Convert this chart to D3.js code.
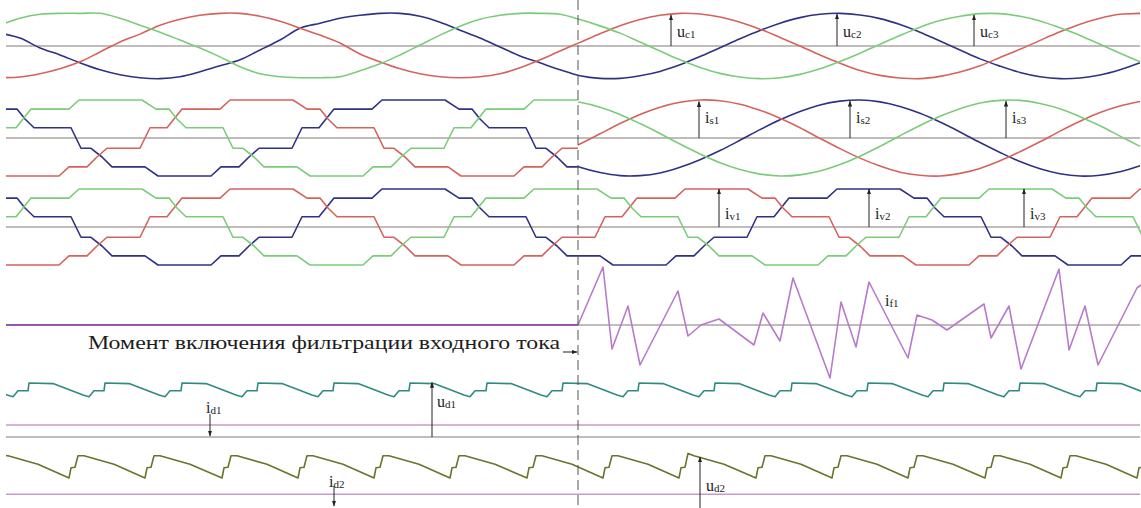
<!DOCTYPE html>
<html>
<head>
<meta charset="utf-8">
<script src="https://cdn.jsdelivr.net/npm/d3@7"></script>
<style>
  html, body { margin: 0; padding: 0; background: #fff; }
  svg { display: block; }
</style>
</head>
<body>
<svg id="chart" width="1141" height="508"></svg>
<script>
// ---------------------------------------------------------------
// Transient of the input-current filter switch-on (oscillograms).
// Time in ms, currents / voltages in % of nominal amplitude.
// ---------------------------------------------------------------
const tSwitch = 28.9;                 // filter switched on, ms
const sampleTimes = d3.range(0, 58);  // 1 ms grid of the sinusoidal records
const sineTimes = d3.range(28, 58);   // grid of the source current after switch-on

// capacitor (supply) voltages u_c1, u_c2, u_c3
const uc1 = [-96,-94,-84,-69,-48,-18,12,36,63,81,93,99,99,90,75,54,33,9,-24,-48,-69,-84,-93,-96,-93,-84,-66,-42,-15,
             11,37,61,80,93,99,97,88,72,51,26,0,-27,-52,-74,-89,-97,-99,-92,-79,-60,-35,-10,17,43,66,84,96,99];
const uc2 = [39,24,-6,-27,-51,-72,-87,-96,-99,-93,-78,-60,-42,-12,18,54,69,84,93,99,99,90,72,48,24,-3,-30,-51,-72,
             -90,-98,-98,-90,-77,-57,-32,-5,22,47,69,86,96,99,94,83,65,42,15,-12,-39,-61,-80,-93,-99,-97,-88,-72,-51];
const uc3 = [63,84,96,99,99,99,84,63,42,18,-6,-33,-63,-84,-93,-96,-96,-93,-75,-54,-27,3,33,60,81,93,99,99,96,
             80,61,39,12,-15,-42,-65,-83,-94,-99,-96,-86,-69,-47,-22,5,32,57,77,90,98,98,90,76,55,32,5,-22,-48];

// rectifier input currents i_v1..i_v3 : [time ms, value]
const iv1 = [[-2,-76],[-0.35,-76],[0.3,-100],[2.95,-100],[3.45,-76],[4.35,-76],[4.85,-50],[5.35,-27],[7,-27],[7.5,27],[8.35,27],[8.7,50],[9.1,76],[11,76],[11.5,100],[14.65,100],[15.35,76],[16,76],[16.4,50],[16.85,27],[18.7,27],[19.2,-27],[19.7,-27],[20.25,-50],[20.75,-76],[22.4,-76],[23.05,-100],[25.7,-100],[26.2,-76],[27.1,-76],[27.6,-50],[28.1,-27],[29.75,-27],[30.25,27],[31.1,27],[31.45,50],[31.85,76],[33.75,76],[34.25,100],[37.4,100],[38.1,76],[38.75,76],[39.15,50],[39.6,27],[41.45,27],[41.95,-27],[42.45,-27],[43,-50],[43.5,-76],[45.15,-76],[45.8,-100],[48.45,-100],[48.95,-76],[49.85,-76],[50.35,-50],[50.85,-27],[52.5,-27],[53,27],[53.85,27],[54.2,50],[54.6,76],[56.5,76],[57,100],[60,100]];
const iv2 = [[-0.5,100],[0.2,76],[0.85,76],[1.25,50],[1.7,27],[3.55,27],[4.05,-27],[4.55,-27],[5.1,-50],[5.6,-76],[7.25,-76],[7.9,-100],[10.55,-100],[11.05,-76],[11.95,-76],[12.45,-50],[12.95,-27],[14.6,-27],[15.1,27],[15.95,27],[16.3,50],[16.7,76],[18.6,76],[19.1,100],[22.25,100],[22.95,76],[23.6,76],[24,50],[24.45,27],[26.3,27],[26.8,-27],[27.3,-27],[27.85,-50],[28.35,-76],[30,-76],[30.65,-100],[33.3,-100],[33.8,-76],[34.7,-76],[35.2,-50],[35.7,-27],[37.35,-27],[37.85,27],[38.7,27],[39.05,50],[39.45,76],[41.35,76],[41.85,100],[45,100],[45.7,76],[46.35,76],[46.75,50],[47.2,27],[49.05,27],[49.55,-27],[50.05,-27],[50.6,-50],[51.1,-76],[52.75,-76],[53.4,-100],[56.05,-100],[56.55,-76],[57.45,-76]];
const iv3 = [[-0.55,-27],[-0.05,27],[0.8,27],[1.15,50],[1.55,76],[3.45,76],[3.95,100],[7.1,100],[7.8,76],[8.45,76],[8.85,50],[9.3,27],[11.15,27],[11.65,-27],[12.15,-27],[12.7,-50],[13.2,-76],[14.85,-76],[15.5,-100],[18.15,-100],[18.65,-76],[19.55,-76],[20.05,-50],[20.55,-27],[22.2,-27],[22.7,27],[23.55,27],[23.9,50],[24.3,76],[26.2,76],[26.7,100],[29.85,100],[30.55,76],[31.2,76],[31.6,50],[32.05,27],[33.9,27],[34.4,-27],[34.9,-27],[35.45,-50],[35.95,-76],[37.6,-76],[38.25,-100],[40.9,-100],[41.4,-76],[42.3,-76],[42.8,-50],[43.3,-27],[44.95,-27],[45.45,27],[46.3,27],[46.65,50],[47.05,76],[48.95,76],[49.45,100],[52.6,100],[53.3,76],[53.95,76],[54.35,50],[54.8,27],[56.65,27],[57.15,-27]];

// source currents i_s1..i_s3 after the filter is on (before it they equal i_v)
const is1 = [-43,-16,11,38,62,81,94,100,98,89,73,52,27,-1,-28,-53,-74,-90,-98,-100,-93,-80,-60,-36,-10,18,44,67,84,96];
const is2 = [-57,-77,-91,-99,-99,-92,-77,-57,-33,-6,22,48,70,87,97,100,95,83,65,42,16,-12,-38,-62,-81,-94,-100,-98,-89,-73];
const is3 = [100,94,81,62,38,12,-16,-42,-65,-83,-95,-100,-97,-87,-70,-48,-22,6,33,57,77,92,99,99,91,77,56,32,5,-22];

// filter current i_f1 : [time ms, value]
const if1 = [[0,0],[28.9,0],[30.15,116],[30.6,-48],[31.4,38],[32,-80],[33.9,68],[34.4,-22],[35.05,0],[35.95,12],[37.7,-40],[38.15,24],[39,-32],[39.65,94],[41.5,-106],[42.05,46],[42.8,-44],[43.45,86],[45.4,-66],[45.85,20],[46.6,10],[47.35,-10],[49.2,42],[49.55,-26],[50.45,38],[51.05,-88],[52.95,112],[53.45,-50],[54.25,38],[54.9,-80],[56.85,74],[57.05,80]];

// rectified voltage u_d1 and DC current i_d1 : [time ms, value]
const ud1 = [[-2.4,77],[-2.35,90],[-1.15,89],[0.35,70],[0.65,67],[0.9,77],
  [1.4,77],[1.45,90],[2.65,89],[4.15,70],[4.45,67],[4.7,77],
  [5.2,77],[5.25,90],[6.45,89],[7.95,70],[8.25,67],[8.5,77],
  [9.05,77],[9.1,90],[10.3,89],[11.8,70],[12.1,67],[12.35,77],
  [12.85,77],[12.9,90],[14.1,89],[15.6,70],[15.9,67],[16.15,77],
  [16.65,77],[16.7,90],[17.9,89],[19.4,70],[19.7,67],[19.95,77],
  [20.45,77],[20.5,90],[21.7,89],[23.2,70],[23.5,67],[23.75,77],
  [24.3,77],[24.35,90],[25.55,89],[27.05,70],[27.35,67],[27.6,77],
  [28.1,77],[28.15,90],[29.35,89],[30.85,70],[31.15,67],[31.4,77],
  [31.9,77],[31.95,90],[33.15,89],[34.65,70],[34.95,67],[35.2,77],
  [35.7,77],[35.75,90],[36.95,89],[38.45,70],[38.75,67],[39,77],
  [39.55,77],[39.6,90],[40.8,89],[42.3,70],[42.6,67],[42.85,77],
  [43.35,77],[43.4,90],[44.6,89],[46.1,70],[46.4,67],[46.65,77],
  [47.15,77],[47.2,90],[48.4,89],[49.9,70],[50.2,67],[50.45,77],
  [50.95,77],[51,90],[52.2,89],[53.7,70],[54,67],[54.25,77],
  [54.8,77],[54.85,90],[56.05,89],[57.55,70]];
const id1 = [[0,20],[57,20]];

// rectified voltage u_d2 and DC current i_d2 : [time ms, value]
const ud2 = [[-0.35,45],[-0.25,62],[-0.05,63],[0.1,82],[0.4,82],[1.9,68],
  [3.45,45],[3.55,62],[3.75,63],[3.9,82],[4.2,82],[5.7,68],
  [7.25,45],[7.35,62],[7.55,63],[7.7,82],[8,82],[9.5,68],
  [11.1,45],[11.2,62],[11.4,63],[11.55,82],[11.85,82],[13.35,68],
  [14.9,45],[15,62],[15.2,63],[15.35,82],[15.65,82],[17.15,68],
  [18.7,45],[18.8,62],[19,63],[19.15,82],[19.45,82],[20.95,68],
  [22.5,45],[22.6,62],[22.8,63],[22.95,82],[23.25,82],[24.75,68],
  [26.35,45],[26.45,62],[26.65,63],[26.8,82],[27.1,82],[28.6,68],
  [30.15,45],[30.25,62],[30.45,63],[30.6,82],[30.9,82],[32.4,68],
  [33.95,45],[34.05,62],[34.25,63],[34.4,86],[34.7,82],[36.2,68],
  [37.8,45],[37.9,62],[38.1,63],[38.25,82],[38.55,82],[40.05,68],
  [41.6,45],[41.7,62],[41.9,63],[42.05,82],[42.35,82],[43.85,68],
  [45.4,45],[45.5,62],[45.7,63],[45.85,82],[46.15,82],[47.65,68],
  [49.25,45],[49.35,62],[49.55,63],[49.7,82],[50,82],[51.5,68],
  [53.05,45],[53.15,62],[53.35,63],[53.5,82],[53.8,82],[55.3,68],
  [56.85,45],[56.95,62],[57.15,63]];
const id2 = [[0,18],[57,18]];

// annotation labels: [letter, subscript, time ms, tip value]
const ucLabels = [["u","c1",33.55,94],["u","c2",41.85,97],["u","c3",48.7,94]];
const isLabels = [["i","s1",34.95,96],["i","s2",42.5,97],["i","s3",50.3,97]];
const ivLabels = [["i","v1",35.95,100],["i","v2",43.45,100],["i","v3",51.2,100]];

// ---------------------------------------------------------------
const svg = d3.select("#chart");
const W = 1141, H = 508;
svg.append("rect").attr("width", W).attr("height", H).attr("fill", "#fff");

const x = d3.scaleLinear().domain([0, 57]).range([0, 1140]);
const y = {
  uc: d3.scaleLinear().domain([-100, 100]).range([79, 13]),
  is: d3.scaleLinear().domain([-100, 100]).range([176, 100]),
  iv: d3.scaleLinear().domain([-100, 100]).range([265, 189]),
  if: d3.scaleLinear().domain([-100, 100]).range([375, 275]),
  d1: d3.scaleLinear().domain([0, 100]).range([437, 377]),
  d2: d3.scaleLinear().domain([0, 100]).range([505, 445])
};

const RED = "#d6625c", BLUE = "#2f3184", GREEN = "#7bcc79";
const PURPLE = "#b87bcb", PURPLE_DARK = "#9a54b2", TEAL = "#2f8a82", OLIVE = "#65762c", PINK = "#c99ac9";
const GRID = "#aea5a5";

const defs = svg.append("defs");
function clip(id, x0, x1) {
  defs.append("clipPath").attr("id", id).append("rect")
    .attr("x", x0).attr("y", 0).attr("width", x1 - x0).attr("height", H);
}
clip("all", 6, W);
clip("before", 6, x(tSwitch));
clip("after", x(tSwitch), W);

defs.append("marker").attr("id", "head").attr("viewBox", "0 0 10 10")
  .attr("refX", 9).attr("refY", 5).attr("markerWidth", 6).attr("markerHeight", 7)
  .attr("markerUnits", "userSpaceOnUse").attr("orient", "auto")
  .append("path").attr("d", "M0,1.5 L10,5 L0,8.5 Z").attr("fill", "#222");

const plot = svg.append("g").attr("clip-path", "url(#all)");
const before = svg.append("g").attr("clip-path", "url(#before)");
const after = svg.append("g").attr("clip-path", "url(#after)");

// zero lines
[["uc", 0], ["is", 0], ["iv", 0], ["if", 0], ["d1", 0]].forEach(([k, v]) => {
  plot.append("line").attr("x1", x(0)).attr("x2", x(57))
    .attr("y1", y[k](v)).attr("y2", y[k](v))
    .attr("stroke", GRID).attr("stroke-width", 1.5);
});

function trace(g, pts, ys, color, w, curve) {
  g.append("path").datum(pts)
    .attr("fill", "none").attr("stroke", color).attr("stroke-width", w)
    .attr("stroke-linejoin", "round")
    .attr("d", d3.line().x(d => x(d[0])).y(d => ys(d[1])).curve(curve || d3.curveLinear));
}
const zipT = (ts, vs) => vs.map((v, i) => [ts[i], v]);
const smooth = d3.curveCatmullRom.alpha(0.5);

// panel 1: supply voltages
trace(plot, zipT(sampleTimes, uc2), y.uc, BLUE, 1.6, smooth);
trace(plot, zipT(sampleTimes, uc1), y.uc, RED, 1.6, smooth);
trace(plot, zipT(sampleTimes, uc3), y.uc, GREEN, 1.6, smooth);

// panel 2: source currents (rectifier current before switch-on, sinusoidal after)
trace(before, iv2, y.is, BLUE, 1.6);
trace(before, iv1, y.is, RED, 1.6);
trace(before, iv3, y.is, GREEN, 1.6);
trace(after, zipT(sineTimes, is2), y.is, BLUE, 1.6, smooth);
trace(after, zipT(sineTimes, is1), y.is, RED, 1.6, smooth);
trace(after, zipT(sineTimes, is3), y.is, GREEN, 1.6, smooth);

// panel 3: rectifier input currents
trace(plot, iv2, y.iv, BLUE, 1.6);
trace(plot, iv1, y.iv, RED, 1.6);
trace(plot, iv3, y.iv, GREEN, 1.6);

// panel 4: filter current (idle record is drawn denser)
trace(before, if1, y.if, PURPLE_DARK, 2.2);
trace(after, if1, y.if, PURPLE, 1.6);

// panel 5 / 6: DC side
trace(plot, id1, y.d1, PINK, 1.6);
trace(plot, ud1, y.d1, TEAL, 1.6);
trace(plot, id2, y.d2, PINK, 1.6);
trace(plot, ud2, y.d2, OLIVE, 1.6);

// switch-on moment
svg.append("line").attr("x1", x(tSwitch)).attr("x2", x(tSwitch))
  .attr("y1", 0).attr("y2", H)
  .attr("stroke", "#555").attr("stroke-width", 1).attr("stroke-dasharray", "10,5");

const font = "'Liberation Serif','Times New Roman',serif";
svg.append("text").attr("x", 88).attr("y", 349)
  .attr("font-family", font).attr("font-size", 19).attr("fill", "#1d1d1d")
  .attr("textLength", 472).attr("lengthAdjust", "spacingAndGlyphs")
  .text("Момент включения фильтрации входного тока");
svg.append("line").attr("x1", 563).attr("x2", x(tSwitch) - 1)
  .attr("y1", 352).attr("y2", 352)
  .attr("stroke", "#222").attr("stroke-width", 1).attr("marker-end", "url(#head)");

// labels
function label(letter, sub, px, py) {
  const t = svg.append("text").attr("x", px).attr("y", py)
    .attr("font-family", font).attr("fill", "#222").attr("font-size", 16);
  t.append("tspan").text(letter);
  t.append("tspan").attr("font-size", 11).attr("dy", 1).text(sub);
}
function arrow(x0, y0, y1) {
  svg.append("line").attr("x1", x0).attr("x2", x0).attr("y1", y0).attr("y2", y1)
    .attr("stroke", "#222").attr("stroke-width", 1).attr("marker-end", "url(#head)");
}
ucLabels.forEach(([l, s, t, v]) => { arrow(x(t), y.uc(0), y.uc(v)); label(l, s, x(t) + 6, 37); });
isLabels.forEach(([l, s, t, v]) => { arrow(x(t), y.is(0), y.is(v)); label(l, s, x(t) + 6, 123); });
ivLabels.forEach(([l, s, t, v]) => { arrow(x(t), y.iv(0), y.iv(v)); label(l, s, x(t) + 6, 219); });
label("i", "f1", 885, 306);

// DC side markers
arrow(x(10.5), 414, 436); label("i", "d1", 206, 413);
arrow(x(21.6), y.d1(0), y.d1(91)); label("u", "d1", x(21.6) + 5, 407);
arrow(x(16.7), 486, 506); label("i", "d2", 329, 487);
arrow(x(35), H, y.d2(80)); label("u", "d2", x(35) + 6, 491);
</script>
</body>
</html>
